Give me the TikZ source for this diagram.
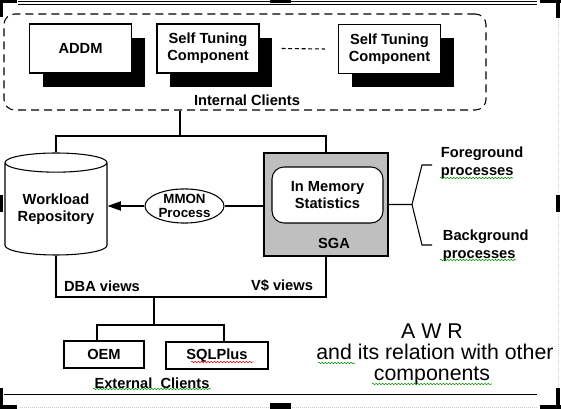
\documentclass[tikz,border=0pt]{standalone}
\usepackage{fontspec}
\setmainfont{Liberation Sans}
\usetikzlibrary{arrows.meta,positioning,shapes.geometric,shadows,decorations.pathmorphing}

\begin{document}
\begin{tikzpicture}[x=0.75pt,y=-0.75pt,line width=0.8pt,
    lbl/.style={font=\bfseries\fontsize{11}{12.5}\selectfont,align=center},
    compbox/.style={lbl,draw,fill=white,minimum width=76.5pt,minimum height=36.75pt,inner sep=0pt,
        drop shadow={shadow xshift=10pt,shadow yshift=-10.5pt,fill=black,opacity=1}},
    clientbox/.style={lbl,draw,minimum height=20.25pt,inner sep=0pt},
    squig/.style={decorate,decoration={snake,amplitude=0.55pt,segment length=2.4pt},green!60!black,line width=0.4pt}]
\useasboundingbox (0,0) rectangle (561,409);
% frame and handles
\draw[line width=0.7pt] (18,1.2) -- (537,1.2);
\draw[line width=0.7pt] (18,4.7) -- (537,4.7);
\draw[line width=0.7pt] (4,394) -- (537,394);
\draw[gray!40,densely dotted,line width=0.5pt] (558,18) -- (558,388);
\draw[gray!40,densely dotted,line width=0.5pt] (20,407) -- (538,407);
\foreach \xa/\ya/\xb/\yb in {0/0/17/3.5, 0/0/3/17, 270/0/291/3.5, 540/0/561/3.5, 556/0/560/18,
    0/195/3/212, 556/195/560/212, 0/405/17/409, 0/388/3/409, 270/403/291/409,
    540/405/561/409, 556/388/560/409}
{
    \fill (\xa,\ya) rectangle (\xb,\yb);
}
% internal clients
\node[draw,dash pattern=on 6pt off 3.75pt,rounded corners=8pt,minimum width=361.5pt,minimum height=72pt] (internal) at (245,62) {};
\node[lbl] (intlbl) at (247,100) {Internal Clients};
\node[compbox] (addm) at (80.5,48.5) {ADDM};
\node[compbox] (stc1) at (208,48.5) {Self Tuning\\Component};
\node[compbox] (stc2) at (389.5,49) {Self Tuning\\Component};
\draw[dash pattern=on 3pt off 2pt] ([xshift=16.5pt]stc1.east) -- ([xshift=-9.75pt]stc2.west);
% repository, mmon and sga
\node[lbl,draw,cylinder,shape border rotate=90,aspect=0.25,minimum width=76.5pt,minimum height=76.5pt,inner sep=0pt,anchor=shape center] (wr) at (56,204) {Workload\\Repository};
\node[lbl,draw,ellipse,inner sep=0pt,minimum width=59.25pt,minimum height=24.75pt,font=\bfseries\fontsize{10}{11}\selectfont] (mmon) at (184.5,206) {MMON\\Process};
\node[draw,fill=gray!50,minimum width=93pt,minimum height=77.25pt,inner sep=0pt] (sga) at (326,204.5) {};
\node[lbl,draw,fill=white,rounded corners=9pt,minimum width=83.25pt,minimum height=42pt,inner sep=0pt] (ims) at (327.5,195) {In Memory\\Statistics};
\node[lbl] (sgalbl) at (334,243) {SGA};
\draw[-{Triangle[length=10pt,width=7pt]}] (mmon.west) -- (wr.east |- mmon.west);
\draw (mmon.east) -- (sga.west |- mmon.east);
% processes
\node[lbl,anchor=west,align=left,font=\bfseries\fontsize{11}{13.75}\selectfont] (fg) at (436,163) {Foreground\\processes};
\node[lbl,anchor=west,align=left,font=\bfseries\fontsize{11}{13.75}\selectfont] (bg) at (438,246) {Background\\processes};
\coordinate (fork) at (412,204.5);
\draw (sga.east) -- (fork) -- (422,165) -- (432,165);
\draw (fork) -- (422,245) -- (432,245);
% views
\coordinate (top) at (180,136);
\draw (internal.south -| top) -- (top);
\draw (wr.north) -- (wr.north |- top) -- (sga.north |- top) -- (sga.north);
\coordinate (bot) at (154,297);
\draw (wr.south) -- (wr.south |- bot) -- (sga.south |- bot) -- (sga.south);
\node[lbl] (dba) at (102,286) {DBA views};
\node[lbl] (vviews) at (282,286) {V\$ views};
% external clients
\node[clientbox,minimum width=60pt] (oem) at (104,354.5) {OEM};
\node[clientbox,minimum width=76.5pt] (sql) at (217,355.5) {SQLPlus};
\node[lbl] (extlbl) at (152,383) {External\ \ Clients};
\coordinate (ext) at (154,325);
\draw (bot) -- (ext);
\draw ([xshift=-5.25pt]oem.north) -- ([xshift=-5.25pt]oem.north |- ext) -- ([xshift=5.25pt]sql.north |- ext) -- ([xshift=5.25pt]sql.north);
% title
\node[align=center,font=\fontsize{16}{15.75}\selectfont] (title) at (432,354) {A W R\\\ and its relation with other\\components};
% spelling marks
\draw[squig] (440,178) -- (513,178);
\draw[squig] (440,260) -- (516,260);
\draw[squig] (318,363) -- (355,363);
\draw[squig] (372,384) -- (492,384);
\draw[squig] (93,389) -- (211,389);
\draw[squig,red] (191,362) -- (253,362);
\end{tikzpicture}
\end{document}
